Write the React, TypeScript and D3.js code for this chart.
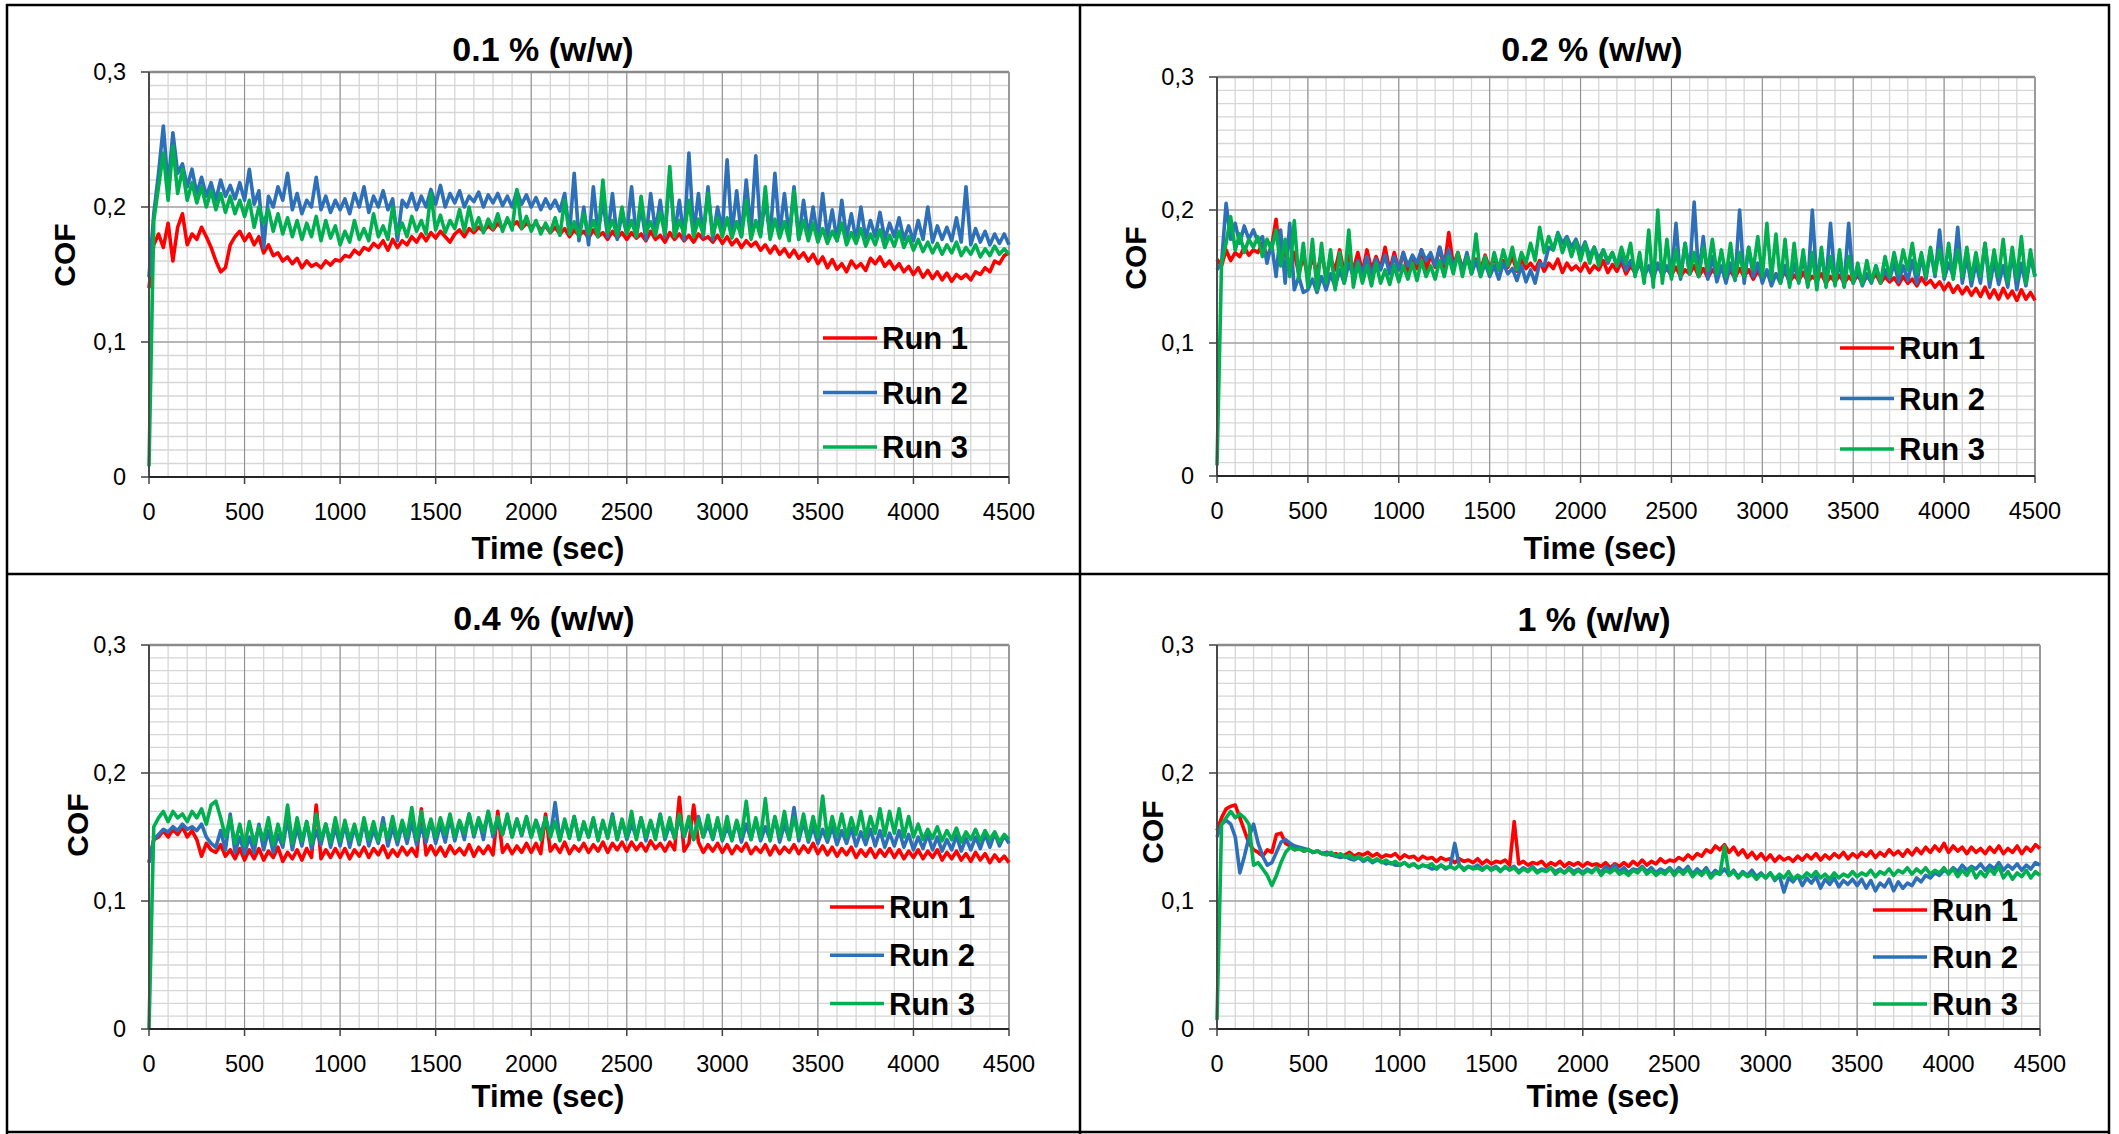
import React from "react";
import * as d3 from "d3";

// one COF reading every TIME_STEP seconds, from 0 to 4500 s
const TIME_STEP = 25;
const X_TICKS = [0, 500, 1000, 1500, 2000, 2500, 3000, 3500, 4000, 4500];
const Y_TICKS = [0, 0.1, 0.2, 0.3];
const Y_TICK_LABELS = ["0", "0,1", "0,2", "0,3"];
const TITLES = ["0.1 % (w/w)", "0.2 % (w/w)", "0.4 % (w/w)", "1 % (w/w)"];
const RUNS = ["Run 1", "Run 2", "Run 3"];
const RUN_COLORS = ["#ff0000", "#2e70b8", "#00b050"];

// values are COF x 1000
const P1_RUN1 = [
  140, 172, 180, 170, 188, 160, 185, 195, 172, 180, 176, 185, 178, 170, 160, 152, 155, 172, 178, 182,
  175, 180, 172, 178, 166, 172, 164, 166, 160, 163, 158, 162, 155, 160, 156, 158, 155, 160, 157, 161,
  160, 164, 163, 168, 165, 170, 168, 173, 170, 175, 168, 176, 170, 175, 172, 178, 174, 180, 175, 181,
  177, 182, 178, 174, 180, 183, 178, 184, 181, 185, 182, 186, 183, 188, 184, 190, 186, 189, 184, 188,
  185, 188, 183, 186, 181, 185, 180, 184, 178, 183, 179, 182, 177, 183, 178, 181, 176, 182, 177, 181,
  176, 181, 177, 180, 175, 182, 176, 179, 174, 181, 176, 180, 175, 179, 174, 180, 176, 178, 174, 179,
  173, 178, 172, 176, 170, 175, 171, 174, 168, 172, 166, 171, 165, 169, 163, 168, 162, 166, 160, 165,
  158, 163, 155, 161, 154, 158, 152, 160, 155, 158, 153, 162, 158, 163, 156, 160, 154, 158, 152, 156,
  150, 155, 148, 153, 147, 152, 146, 151, 145, 150, 147, 150, 146, 152, 150, 155, 152, 160, 158, 164,
  166,
];
const P1_RUN2 = [
  148, 195, 225, 260, 215, 255, 225, 232, 215, 228, 210, 222, 208, 218, 205, 220, 208, 216, 206, 218,
  205, 228, 202, 212, 170, 208, 200, 215, 205, 225, 198, 210, 195, 205, 200, 222, 198, 208, 196, 205,
  198, 206, 195, 210, 200, 215, 196, 208, 200, 212, 198, 206, 175, 205, 200, 210, 198, 208, 200, 213,
  202, 216, 200, 210, 203, 212, 200, 208, 204, 211, 200, 209, 203, 210, 201, 208, 200, 212, 202, 209,
  200, 207, 198, 206, 199, 205, 197, 210, 180, 225, 175, 200, 172, 215, 180, 205, 178, 210, 176, 195,
  180, 215, 178, 200, 176, 210, 182, 205, 178, 225, 180, 205, 176, 240, 180, 210, 178, 215, 176, 200,
  182, 235, 180, 212, 178, 220, 182, 238, 180, 205, 178, 225, 180, 210, 178, 215, 176, 205, 178, 200,
  176, 210, 178, 198, 175, 205, 177, 195, 175, 200, 177, 190, 178, 196, 176, 188, 178, 192, 176, 186,
  175, 190, 176, 200, 174, 186, 176, 185, 175, 192, 174, 215, 172, 184, 174, 182, 172, 180, 173, 180,
  172,
];
const P1_RUN3 = [
  8, 190, 215, 240, 205, 245, 210, 228, 205, 218, 203, 215, 200, 212, 198, 210, 196, 208, 195, 205,
  193, 205, 185, 200, 188, 198, 182, 195, 180, 192, 178, 190, 176, 188, 178, 193, 175, 190, 177, 186,
  172, 182, 174, 190, 176, 184, 175, 195, 178, 186, 176, 200, 180, 188, 178, 193, 182, 190, 180, 210,
  183, 194, 181, 190, 184, 198, 182, 200, 183, 192, 181, 191, 184, 195, 182, 192, 183, 213, 184, 193,
  182, 190, 180, 188, 181, 192, 179, 205, 180, 189, 178, 195, 180, 190, 178, 220, 181, 190, 179, 200,
  180, 190, 178, 208, 181, 189, 179, 196, 180, 230, 178, 190, 180, 205, 178, 191, 180, 210, 179, 192,
  178, 192, 177, 189, 178, 205, 176, 190, 178, 215, 176, 191, 177, 189, 175, 212, 176, 190, 175, 188,
  174, 184, 173, 182, 175, 188, 172, 181, 173, 184, 171, 180, 172, 183, 170, 179, 171, 182, 170, 178,
  168, 176, 167, 174, 166, 173, 165, 172, 166, 174, 164, 170, 165, 172, 163, 169, 164, 171, 165, 169,
  165,
];

const P2_RUN1 = [
  163, 158, 170, 162, 168, 165, 172, 166, 170, 168, 175, 165, 172, 193, 160, 170, 155, 168, 152, 165,
  150, 165, 152, 168, 150, 163, 155, 170, 152, 166, 155, 168, 153, 170, 155, 165, 156, 172, 154, 168,
  155, 168, 153, 165, 156, 170, 155, 166, 157, 172, 156, 183, 158, 168, 156, 165, 157, 163, 155, 166,
  156, 164, 155, 162, 157, 165, 154, 163, 156, 160, 155, 162, 154, 160, 156, 163, 153, 160, 155, 158,
  154, 160, 153, 158, 155, 162, 153, 159, 154, 161, 152, 158, 153, 160, 152, 157, 151, 158, 152, 156,
  151, 157, 150, 155, 152, 158, 150, 156, 149, 155, 151, 157, 150, 154, 149, 156, 150, 155, 148, 154,
  148, 153, 147, 152, 148, 154, 146, 151, 147, 153, 146, 150, 147, 152, 145, 150, 146, 151, 145, 150,
  146, 151, 145, 150, 147, 152, 145, 150, 146, 149, 144, 150, 145, 148, 143, 149, 144, 147, 142, 146,
  140, 145, 138, 143, 137, 142, 136, 141, 135, 142, 134, 140, 133, 141, 134, 139, 132, 140, 133, 138,
  132,
];
const P2_RUN2 = [
  155, 160, 205, 178, 190, 175, 188, 178, 185, 176, 180, 160, 175, 150, 185, 145, 190, 140, 150, 138,
  140, 148, 138, 150, 140, 152, 142, 155, 145, 160, 150, 162, 152, 165, 150, 163, 155, 166, 152, 165,
  155, 168, 158, 166, 160, 170, 162, 168, 158, 172, 160, 170, 158, 165, 155, 168, 152, 162, 150, 160,
  150, 158, 148, 160, 152, 156, 147, 158, 146, 155, 145, 160, 158, 172, 170, 183, 175, 180, 172, 178,
  168, 176, 165, 172, 163, 170, 160, 168, 158, 165, 155, 162, 152, 160, 150, 158, 148, 160, 150, 158,
  150, 190, 148, 175, 152, 206, 150, 180, 148, 165, 146, 158, 145, 160, 147, 200, 145, 172, 150, 160,
  145, 155, 143, 152, 145, 158, 144, 160, 146, 165, 143, 200, 145, 168, 144, 190, 146, 160, 143, 190,
  145, 155, 143, 152, 145, 158, 146, 155, 148, 160, 146, 158, 147, 162, 145, 165, 148, 170, 150, 185,
  148, 160, 150, 187, 145, 165, 143, 160, 145, 175, 142, 162, 144, 158, 142, 168, 140, 160, 143, 165,
  150,
];
const P2_RUN3 = [
  8, 160, 175, 195, 170, 182, 168, 178, 172, 180, 165, 178, 170, 185, 158, 178, 150, 192, 148, 175,
  142, 178, 140, 175, 145, 170, 140, 168, 145, 185, 142, 160, 145, 158, 143, 160, 145, 155, 144, 158,
  146, 158, 148, 160, 147, 162, 150, 158, 148, 162, 150, 165, 152, 168, 150, 165, 152, 182, 150, 165,
  152, 168, 155, 170, 158, 172, 155, 168, 160, 175, 162, 187, 168, 180, 170, 182, 168, 178, 165, 176,
  162, 175, 160, 172, 158, 170, 162, 168, 158, 172, 160, 175, 150, 168, 145, 185, 142, 200, 145, 178,
  148, 170, 150, 175, 152, 168, 150, 172, 155, 178, 152, 170, 150, 175, 148, 168, 150, 172, 155, 180,
  150, 190, 148, 182, 145, 178, 142, 175, 145, 170, 142, 168, 140, 172, 142, 165, 143, 170, 142, 165,
  145, 160, 144, 162, 146, 158, 145, 165, 150, 168, 152, 170, 155, 175, 152, 168, 150, 172, 152, 170,
  150, 175, 148, 170, 150, 172, 148, 168, 150, 175, 148, 170, 150, 178, 146, 172, 148, 180, 145, 170,
  150,
];

const P3_RUN1 = [
  130, 148, 150, 155, 150, 156, 152, 158, 150, 155, 148, 135, 145, 140, 138, 144, 135, 140, 133, 141,
  132, 140, 133, 141, 132, 139, 134, 142, 131, 138, 133, 140, 132, 141, 134, 175, 133, 140, 134, 141,
  134, 141, 133, 140, 135, 142, 134, 141, 136, 143, 134, 140, 135, 142, 136, 141, 135, 172, 136, 143,
  136, 142, 135, 143, 137, 141, 136, 144, 135, 142, 137, 143, 136, 170, 138, 144, 137, 143, 138, 145,
  138, 145, 137, 168, 139, 144, 138, 146, 137, 143, 139, 145, 138, 144, 139, 146, 138, 145, 140, 146,
  139, 146, 140, 145, 139, 147, 141, 145, 139, 146, 140, 181, 139, 145, 175, 146, 138, 144, 139, 145,
  138, 144, 137, 143, 139, 145, 137, 142, 138, 144, 136, 143, 137, 142, 138, 144, 137, 143, 138, 145,
  137, 143, 136, 142, 135, 141, 136, 142, 134, 140, 135, 141, 134, 140, 135, 141, 134, 140, 133, 139,
  134, 140, 133, 139, 134, 140, 132, 138, 133, 139, 132, 137, 131, 138, 132, 137, 130, 136, 131, 135,
  130,
];
const P3_RUN2 = [
  130, 148, 152, 156, 154, 158, 155, 160, 156, 158, 155, 160, 150, 145, 142, 155, 140, 168, 138, 150,
  137, 150, 138, 160, 140, 155, 138, 152, 142, 165, 140, 158, 143, 162, 141, 155, 144, 160, 142, 158,
  143, 160, 142, 158, 144, 162, 143, 156, 145, 165, 143, 158, 144, 160, 145, 162, 144, 158, 146, 163,
  145, 160, 146, 165, 147, 162, 148, 168, 150, 164, 148, 170, 150, 162, 152, 166, 150, 164, 151, 165,
  150, 163, 152, 165, 150, 177, 148, 162, 150, 166, 148, 160, 150, 164, 148, 162, 150, 168, 148, 163,
  148, 160, 150, 165, 147, 162, 150, 168, 148, 160, 149, 165, 150, 162, 148, 166, 150, 160, 148, 163,
  147, 158, 148, 162, 146, 160, 148, 163, 147, 158, 148, 165, 146, 160, 148, 173, 147, 162, 146, 158,
  145, 156, 146, 158, 144, 155, 145, 157, 143, 154, 144, 156, 143, 155, 142, 153, 143, 155, 142, 152,
  140, 150, 141, 152, 140, 150, 139, 148, 140, 151, 139, 149, 140, 150, 141, 152, 142, 153, 143, 151,
  145,
];
const P3_RUN3 = [
  0, 158, 165, 170, 162, 170, 165, 168, 162, 170, 165, 172, 160, 175, 178, 165, 150, 165, 145, 160,
  143, 162, 145, 158, 148, 165, 144, 160, 146, 175, 145, 165, 147, 162, 145, 168, 148, 160, 146, 165,
  147, 163, 148, 160, 146, 165, 148, 162, 147, 160, 149, 166, 148, 163, 150, 173, 148, 170, 150, 164,
  150, 165, 152, 168, 150, 163, 153, 168, 152, 165, 154, 170, 153, 166, 152, 168, 150, 164, 152, 166,
  150, 163, 148, 165, 150, 162, 147, 164, 149, 166, 148, 162, 150, 165, 147, 163, 149, 166, 148, 164,
  150, 170, 148, 165, 150, 163, 148, 167, 150, 165, 149, 168, 151, 166, 148, 164, 150, 167, 149, 165,
  148, 166, 147, 163, 150, 178, 148, 165, 149, 180, 147, 166, 150, 170, 148, 165, 150, 168, 148, 166,
  150, 182, 149, 166, 151, 168, 150, 165, 152, 170, 150, 166, 153, 172, 151, 170, 153, 172, 150, 166,
  150, 160, 148, 156, 149, 158, 147, 155, 148, 157, 146, 154, 148, 156, 147, 155, 148, 154, 146, 152,
  148,
];

const P4_RUN1 = [
  155, 165, 172, 174, 175, 165, 155, 145, 140, 138, 135, 140, 138, 152, 153, 145, 143, 140, 141, 139,
  140, 138, 139, 137, 138, 136, 137, 135, 136, 138, 135, 137, 136, 138, 135, 137, 134, 136, 135, 137,
  133, 136, 134, 135, 132, 135, 133, 134, 131, 134, 132, 133, 130, 133, 131, 132, 130, 133, 129, 132,
  129, 131, 130, 132, 128, 162, 129, 131, 128, 130, 129, 131, 127, 130, 128, 131, 127, 130, 128, 130,
  127, 130, 128, 129, 127, 130, 126, 129, 127, 130, 127, 131, 128, 132, 128, 131, 129, 133, 130, 132,
  131, 134, 132, 136, 133, 137, 135, 140, 138, 143, 140, 144, 138, 142, 136, 140, 134, 138, 133, 137,
  132, 136, 131, 135, 132, 134, 131, 135, 132, 136, 133, 137, 132, 136, 133, 137, 134, 138, 133, 137,
  134, 138, 135, 139, 134, 138, 135, 140, 136, 139, 135, 140, 136, 141, 137, 142, 138, 143, 139, 145,
  138, 143, 139, 142, 137, 142, 138, 141, 137, 142, 138, 143, 137, 141, 138, 143, 137, 142, 139, 144,
  141,
];
const P4_RUN2 = [
  150, 160, 163, 160, 150, 122, 135, 150, 160, 145, 135, 128, 130, 138, 146, 148, 145, 143, 142, 141,
  140, 138, 139, 137, 138, 136, 135, 134, 135, 133, 132, 134, 131, 133, 130, 132, 131, 129, 130, 128,
  128, 130, 127, 129, 126, 128, 127, 125, 126, 128, 125, 127, 145, 128, 125, 127, 126, 128, 125, 127,
  125, 127, 124, 126, 125, 127, 123, 126, 124, 127, 123, 125, 124, 126, 123, 125, 122, 126, 123, 125,
  122, 125, 123, 126, 122, 127, 124, 128, 123, 126, 122, 125, 124, 127, 123, 126, 122, 125, 123, 126,
  122, 126, 123, 127, 121, 125, 122, 126, 120, 124, 121, 125, 120, 124, 119, 123, 120, 124, 119, 122,
  118, 122, 116, 120, 107, 118, 115, 120, 112, 118, 114, 119, 110, 117, 113, 118, 111, 116, 113, 117,
  112, 117, 110, 116, 108, 114, 111, 117, 108, 115, 110, 114, 112, 118, 115, 120, 118, 122, 120, 124,
  122, 126, 123, 128, 124, 127, 125, 129, 124, 128, 125, 130, 124, 128, 125, 129, 124, 128, 125, 130,
  128,
];
const P4_RUN3 = [
  7, 160, 165, 170, 165, 168, 165, 160, 128, 130, 125, 120, 112, 120, 130, 138, 142, 140, 141, 139,
  140, 138, 139, 137, 136, 138, 135, 137, 134, 136, 133, 135, 132, 134, 131, 133, 130, 132, 129, 131,
  128, 130, 127, 129, 126, 128, 127, 129, 125, 128, 126, 127, 125, 128, 124, 127, 125, 126, 124, 127,
  124, 126, 123, 127, 124, 126, 122, 125, 123, 126, 122, 124, 123, 126, 121, 124, 122, 125, 121, 124,
  121, 124, 122, 126, 120, 124, 122, 125, 121, 123, 120, 124, 122, 126, 121, 124, 120, 123, 121, 125,
  120, 124, 121, 125, 119, 123, 120, 124, 118, 122, 121, 143, 120, 123, 118, 122, 119, 121, 117, 121,
  118, 122, 117, 121, 118, 123, 117, 120, 118, 122, 119, 123, 118, 121, 117, 122, 118, 121, 119, 123,
  119, 122, 120, 124, 119, 123, 121, 125, 120, 124, 122, 126, 121, 125, 122, 126, 121, 124, 122, 126,
  121, 125, 119, 124, 120, 126, 118, 123, 119, 125, 121, 127, 118, 123, 117, 122, 119, 124, 118, 123,
  120,
];

const PANEL_SERIES = [
  [P1_RUN1, P1_RUN2, P1_RUN3],
  [P2_RUN1, P2_RUN2, P2_RUN3],
  [P3_RUN1, P3_RUN2, P3_RUN3],
  [P4_RUN1, P4_RUN2, P4_RUN3],
];

// where each chart sits on the page
const FRAMES = [
  { x0: 149, x1: 1009, y0: 477, y1: 72, titleX: 543, titleY: 61, timeX: 548, timeY: 559, cofX: 75, cofY: 255, legX: 823, legY: 338, legGap: 54.5 },
  { x0: 1217, x1: 2035, y0: 476, y1: 77, titleX: 1592, titleY: 61, timeX: 1600, timeY: 559, cofX: 1146, cofY: 258, legX: 1840, legY: 348, legGap: 50.5 },
  { x0: 149, x1: 1009, y0: 1029, y1: 645, titleX: 544, titleY: 630, timeX: 548, timeY: 1107, cofX: 88, cofY: 825, legX: 830, legY: 907, legGap: 48.3 },
  { x0: 1217, x1: 2040, y0: 1029, y1: 645, titleX: 1594, titleY: 631, timeX: 1603, timeY: 1107, cofX: 1163, cofY: 832, legX: 1873, legY: 910, legGap: 47 },
];

const FONT = "'Liberation Sans', Arial, sans-serif";

function Panel({ frame, title, series }) {
  const x = d3.scaleLinear().domain([0, 4500]).range([frame.x0, frame.x1]);
  const y = d3.scaleLinear().domain([0, 0.3]).range([frame.y0, frame.y1]);
  const line = d3
    .line<number>()
    .x((_, i) => x(i * TIME_STEP))
    .y((d) => y(d / 1000));

  const minorX = x.ticks(45);
  const minorY = y.ticks(30);

  return (
    <g>
      {minorY.map((v, i) => (
        <line key={"my" + i} x1={frame.x0} x2={frame.x1} y1={y(v)} y2={y(v)} stroke="#d6d6d6" strokeWidth={1.3} />
      ))}
      {minorX.map((v, i) => (
        <line key={"mx" + i} x1={x(v)} x2={x(v)} y1={frame.y0} y2={frame.y1} stroke="#d6d6d6" strokeWidth={1.3} />
      ))}
      {Y_TICKS.slice(1, -1).map((v) => (
        <line key={"gy" + v} x1={frame.x0} x2={frame.x1} y1={y(v)} y2={y(v)} stroke="#8c8c8c" strokeWidth={1} />
      ))}
      {X_TICKS.slice(1, -1).map((v) => (
        <line key={"gx" + v} x1={x(v)} x2={x(v)} y1={frame.y0} y2={frame.y1} stroke="#8c8c8c" strokeWidth={1} />
      ))}

      {/* frame: grey top/right, dark axes */}
      <line x1={frame.x0} x2={frame.x1} y1={frame.y1} y2={frame.y1} stroke="#8a8a8a" strokeWidth={2.5} />
      <line x1={frame.x1} x2={frame.x1} y1={frame.y1} y2={frame.y0} stroke="#9a9a9a" strokeWidth={2} />

      {series.map((s, k) => (
        <path key={k} d={line(s)} fill="none" stroke={RUN_COLORS[k]} strokeWidth={3.6} strokeLinejoin="round" />
      ))}

      <line x1={frame.x0} x2={frame.x0} y1={frame.y1} y2={frame.y0} stroke="#4a4a4a" strokeWidth={2} />
      <line x1={frame.x0} x2={frame.x1} y1={frame.y0} y2={frame.y0} stroke="#262626" strokeWidth={2} />

      {Y_TICKS.map((v, i) => (
        <g key={"yt" + v}>
          <line x1={frame.x0 - 8} x2={frame.x0} y1={y(v)} y2={y(v)} stroke="#404040" strokeWidth={1.5} />
          <text x={frame.x0 - 23} y={y(v)} dy="0.36em" textAnchor="end" fontSize={23.5} fontFamily={FONT} fill="#000">
            {Y_TICK_LABELS[i]}
          </text>
        </g>
      ))}
      {X_TICKS.map((v) => (
        <g key={"xt" + v}>
          <line x1={x(v)} x2={x(v)} y1={frame.y0} y2={frame.y0 + 7} stroke="#404040" strokeWidth={1.5} />
          <text x={x(v)} y={frame.y0 + 43} textAnchor="middle" fontSize={23.5} fontFamily={FONT} fill="#000">
            {v}
          </text>
        </g>
      ))}

      <text x={frame.titleX} y={frame.titleY} textAnchor="middle" fontSize={34} fontWeight="bold" fontFamily={FONT}>
        {title}
      </text>
      <text x={frame.timeX} y={frame.timeY} textAnchor="middle" fontSize={31} fontWeight="bold" fontFamily={FONT}>
        Time (sec)
      </text>
      <text
        transform={`translate(${frame.cofX},${frame.cofY}) rotate(-90)`}
        textAnchor="middle"
        fontSize={30}
        fontWeight="bold"
        fontFamily={FONT}
      >
        COF
      </text>

      {RUNS.map((name, k) => {
        const ly = frame.legY + k * frame.legGap;
        return (
          <g key={name}>
            <line x1={frame.legX} x2={frame.legX + 54} y1={ly} y2={ly} stroke={RUN_COLORS[k]} strokeWidth={3.5} />
            <text x={frame.legX + 59} y={ly + 11} fontSize={31} fontWeight="bold" fontFamily={FONT}>
              {name}
            </text>
          </g>
        );
      })}
    </g>
  );
}

export default function App() {
  return (
    <svg
      width={2119}
      height={1134}
      style={{ position: "absolute", left: 0, top: 0, background: "#fff" }}
    >
      <rect width={2119} height={1134} fill="#fff" />
      {FRAMES.map((f, i) => (
        <Panel key={i} frame={f} title={TITLES[i]} series={PANEL_SERIES[i]} />
      ))}
      {/* table borders around the four charts */}
      <g stroke="#000" strokeWidth={2.5}>
        <line x1={7} x2={7} y1={4} y2={1134} />
        <line x1={1080} x2={1080} y1={4} y2={1134} />
        <line x1={2109} x2={2109} y1={4} y2={1134} />
        <line x1={6} x2={2110} y1={5} y2={5} />
        <line x1={6} x2={2110} y1={574} y2={574} />
        <line x1={6} x2={2110} y1={1132} y2={1132} />
      </g>
    </svg>
  );
}
